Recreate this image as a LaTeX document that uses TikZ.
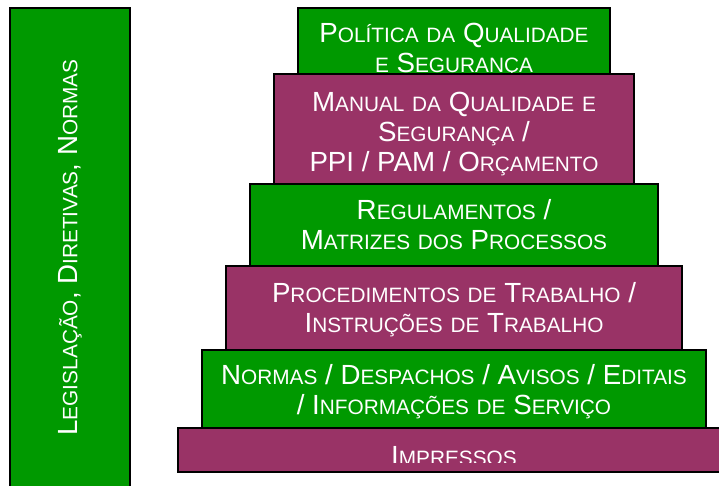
\documentclass[tikz,border=0pt]{standalone}
\usepackage{fontspec}
\setmainfont{Liberation Sans}
\definecolor{verde}{RGB}{0,153,0}
\definecolor{roxo}{RGB}{153,51,102}
\newcommand{\pq}[1]{{\fontsize{20.8}{30}\selectfont #1}}
\newcommand{\degrau}[5]{\node[degrau, fill=#2, minimum width=#3pt, minimum height=#4pt] (#1) at (454,#5) {};}
\tikzset{degrau/.style={draw=black, line width=1.2pt, inner sep=0pt},
         rotulo/.style={text=white, align=center, inner sep=0pt, font=\fontsize{27.7}{30}\selectfont}}

\begin{document}
\begin{tikzpicture}[x=1pt, y=-1pt]
        \useasboundingbox (0,0) rectangle (719,486);
        \node[degrau, fill=verde, minimum width=120pt, minimum height=479pt] (barra) at (70,247.5) {};
        \node[rotulo, rotate=90] (legislacao) at (barra.center) {L\pq{EGISLAÇÃO}, D\pq{IRETIVAS}, N\pq{ORMAS}};
        \degrau{politica}{verde}{312}{66}{41}
        \node[rotulo, anchor=base] (tpolitica) at (454,72.5) {P\pq{OLÍTICA} \pq{DA} Q\pq{UALIDADE}\\ \pq{E} S\pq{EGURANÇA}};
        \degrau{manual}{roxo}{360}{110}{129}
        \node[rotulo, anchor=base] (tmanual) at (454,171.5) {M\pq{ANUAL} \pq{DA} Q\pq{UALIDADE} \pq{E}\\ S\pq{EGURANÇA} /\\ PPI / PAM / O\pq{RÇAMENTO}};
        \degrau{regulamentos}{verde}{408}{82}{225}
        \node[rotulo, anchor=base] (tregulamentos) at (454,249) {R\pq{EGULAMENTOS} /\\ M\pq{ATRIZES} \pq{DOS} P\pq{ROCESSOS}};
        \degrau{procedimentos}{roxo}{456}{84}{308}
        \node[rotulo, anchor=base] (tprocedimentos) at (454,332.5) {P\pq{ROCEDIMENTOS} \pq{DE} T\pq{RABALHO} /\\ I\pq{NSTRUÇÕES} \pq{DE} T\pq{RABALHO}};
        \degrau{normas}{verde}{504}{78}{389}
        \node[rotulo, anchor=base] (tnormas) at (454,414) {N\pq{ORMAS} / D\pq{ESPACHOS} / A\pq{VISOS} / E\pq{DITAIS}\\ / I\pq{NFORMAÇÕES} \pq{DE} S\pq{ERVIÇO}};
        \degrau{impressos}{roxo}{552}{44}{450}
        \begin{scope}
            \clip (178,428) rectangle (730,462);
            \node[rotulo, anchor=base] (timpressos) at (454,465) {I\pq{MPRESSOS}};
        \end{scope}
    \end{tikzpicture}
\end{document}
